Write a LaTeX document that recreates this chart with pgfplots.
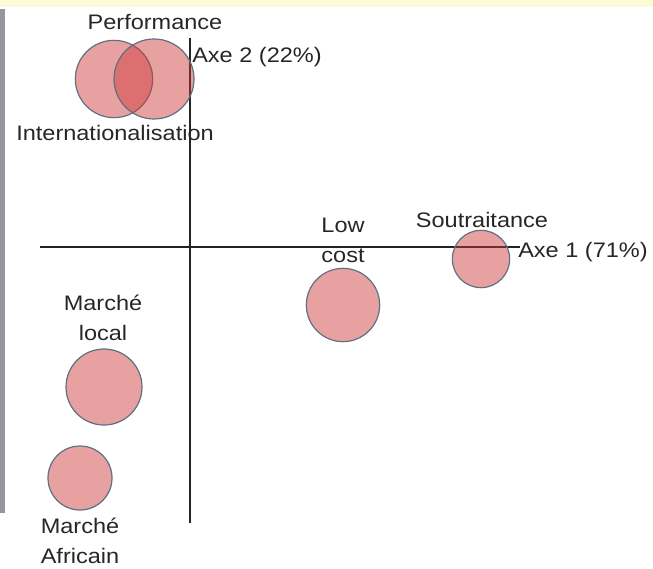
\documentclass[border=0pt]{standalone}
\usepackage{pgfplots}
\pgfplotsset{compat=1.18}
\usepackage{fontspec}
\setmainfont[FakeStretch=1.12]{Liberation Sans}
\definecolor{bubble}{RGB}{206,55,55}
\definecolor{edge}{RGB}{95,112,130}
\definecolor{band}{RGB}{253,250,215}
\definecolor{bar}{RGB}{150,150,160}
\definecolor{axiscol}{RGB}{35,35,35}
\pgfplotstableread{
x y r
-0.76 1.68 29.0
-0.36 1.68 30.0
2.91 -0.12 21.5
1.53 -0.58 27.5
-0.86 -1.40 28.5
-1.10 -2.31 24.0
}\bubbles
\begin{document}
\begin{tikzpicture}
\begin{axis}[
  width=489.75pt, height=426pt, scale only axis,
  xmin=-1.90, xmax=4.63, ymin=-3.21, ymax=2.47,
  hide axis, clip=false,
]
\path (rel axis cs:0,0) rectangle (rel axis cs:1,1);
\fill[band] (axis cs:-1.90,2.47) rectangle (axis cs:4.63,2.40);
\fill[bar] (axis cs:-1.90,2.38) rectangle (axis cs:-1.85,-2.66);
\addplot[axiscol, line width=1.3pt] coordinates {(-1.50,0) (3.30,0)};
\addplot[axiscol, line width=1.3pt] coordinates {(0,2.09) (0,-2.76)};
\addplot[scatter, only marks, mark=*,
  scatter/use mapped color={draw=edge, fill=bubble},
  visualization depends on={\thisrow{r}\as\rad},
  scatter/@pre marker code/.append style={/tikz/mark size=\rad pt},
  mark options={fill opacity=0.47, draw opacity=1, line width=0.9pt},
] table[x=x, y=y] {\bubbles};
\begin{scope}[every node/.style={inner sep=0pt, align=center, font=\fontsize{15.75}{22.5}\selectfont, text=black!85}]
\node at (axis cs:-0.35,2.25) {Performance};
\node[anchor=west] at (axis cs:0.02,1.90) {Axe 2 (22\%)};
\node at (axis cs:-0.75,1.14) {Internationalisation};
\node at (axis cs:1.53,0.07) {Low\\cost};
\node at (axis cs:2.92,0.27) {Soutraitance};
\node[anchor=west] at (axis cs:3.28,-0.05) {Axe 1 (71\%)};
\node at (axis cs:-0.87,-0.71) {Marché\\local};
\node at (axis cs:-1.10,-2.94) {Marché\\Africain};
\end{scope}
\end{axis}
\end{tikzpicture}
\end{document}
